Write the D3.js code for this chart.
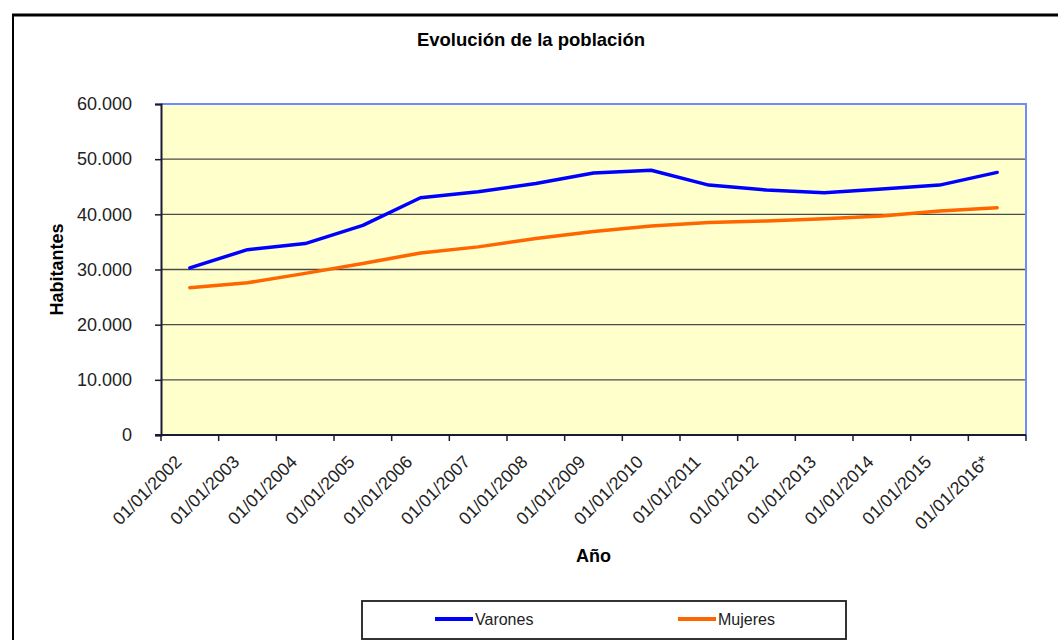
<!DOCTYPE html>
<html>
<head>
<meta charset="utf-8">
<script src="https://cdn.jsdelivr.net/npm/d3@7"></script>
<style>
	body { margin: 0; background: #fff; }
	svg { display: block; font-family: "Liberation Sans", Arial, sans-serif; }
</style>
</head>
<body>
<svg id="wrapper" width="1058" height="640"></svg>
<script>
let years = ["01/01/2002", "01/01/2003", "01/01/2004", "01/01/2005", "01/01/2006",
	"01/01/2007", "01/01/2008", "01/01/2009", "01/01/2010", "01/01/2011",
	"01/01/2012", "01/01/2013", "01/01/2014", "01/01/2015", "01/01/2016*"];
let varones = [30300, 33600, 34700, 38000, 43000, 44100, 45600, 47500, 48000,
	45300, 44400, 43900, 44600, 45300, 47600];
let mujeres = [26700, 27600, 29300, 31100, 33000, 34100, 35600, 36900, 37900,
	38500, 38800, 39200, 39700, 40600, 41200];
let yTicks = [0, 10000, 20000, 30000, 40000, 50000, 60000];

let series = [
	{ name: "Varones", values: varones, color: "#0000ff" },
	{ name: "Mujeres", values: mujeres, color: "#ff6600" },
];

let svg = d3.select("#wrapper");

// page frame around the chart
svg.append("line").attr("x1", 12).attr("x2", 1058).attr("y1", 15).attr("y2", 15)
	.attr("stroke", "#000").attr("stroke-width", 3);
svg.append("line").attr("x1", 13).attr("x2", 13).attr("y1", 14).attr("y2", 640)
	.attr("stroke", "#000").attr("stroke-width", 2);

let plotLeft = 161, plotRight = 1026, plotTop = 104, plotBottom = 435;

let x = d3.scaleBand().domain(years).range([plotLeft, plotRight]).padding(0);
let y = d3.scaleLinear().domain([0, 60000]).range([plotBottom, plotTop]);

let es = d3.formatLocale({ decimal: ",", thousands: ".", grouping: [3], currency: ["", " €"] });
let fmt = es.format(",");

// plot background
svg.append("rect")
	.attr("x", plotLeft).attr("y", plotTop)
	.attr("width", plotRight - plotLeft).attr("height", plotBottom - plotTop)
	.attr("fill", "#ffffcc");

// gridlines
svg.append("g")
	.selectAll("line")
	.data(yTicks.filter((d) => d > 0 && d < 60000))
	.enter()
	.append("line")
	.attr("x1", plotLeft).attr("x2", plotRight)
	.attr("y1", (d) => y(d)).attr("y2", (d) => y(d))
	.attr("stroke", "#4a4a4a").attr("stroke-width", 1.4);

// top and right border of the plot area
svg.append("path")
	.attr("d", `M${plotLeft},${plotTop}H${plotRight}V${plotBottom}`)
	.attr("fill", "none").attr("stroke", "#6f8cff").attr("stroke-width", 2);

// y axis
let yAxis = svg.append("g")
	.attr("transform", `translate(${plotLeft},0)`)
	.call(d3.axisLeft(y).tickValues(yTicks).tickFormat(fmt).tickSize(6).tickPadding(23));
yAxis.select(".domain").attr("stroke", "#1a1a33").attr("stroke-width", 2);
yAxis.selectAll(".tick line").attr("stroke", "#1a1a33").attr("stroke-width", 1.5);
yAxis.selectAll("text")
	.attr("font-size", "18px").attr("fill", "#222")
	.attr("font-family", "Liberation Sans, Arial, sans-serif");

// x axis with ticks on category boundaries
let xAxis = svg.append("g").attr("transform", `translate(0,${plotBottom})`);
xAxis.append("line").attr("x1", plotLeft - 6).attr("x2", plotRight)
	.attr("stroke", "#1a1a33").attr("stroke-width", 2);
xAxis.selectAll(".tk")
	.data(years.concat(["end"]))
	.enter()
	.append("line")
	.attr("class", "tk")
	.attr("x1", (d, i) => plotLeft + i * x.bandwidth())
	.attr("x2", (d, i) => plotLeft + i * x.bandwidth())
	.attr("y1", 0).attr("y2", 6)
	.attr("stroke", "#1a1a33").attr("stroke-width", 1.5);
xAxis.selectAll(".lbl")
	.data(years)
	.enter()
	.append("text")
	.attr("class", "lbl")
	.attr("transform", (d) => `translate(${x(d) + x.bandwidth() / 2 - 7},28) rotate(-45)`)
	.attr("text-anchor", "end")
	.attr("font-size", "17.8px")
	.attr("fill", "#222")
	.text((d) => d);

// lines
let line = d3.line()
	.x((d, i) => x(years[i]) + x.bandwidth() / 2)
	.y((d) => y(d));

svg.append("g")
	.selectAll("path")
	.data(series)
	.enter()
	.append("path")
	.attr("d", (s) => line(s.values))
	.attr("fill", "none")
	.attr("stroke", (s) => s.color)
	.attr("stroke-width", 3.5)
	.attr("stroke-linejoin", "round")
	.attr("stroke-linecap", "round");

// titles
svg.append("text")
	.attr("x", 531).attr("y", 46)
	.attr("text-anchor", "middle")
	.attr("font-size", "18.5px").attr("font-weight", "bold")
	.text("Evolución de la población");

svg.append("text")
	.attr("x", (plotLeft + plotRight) / 2).attr("y", 562)
	.attr("text-anchor", "middle")
	.attr("font-size", "18px").attr("font-weight", "bold")
	.text("Año");

svg.append("text")
	.attr("transform", `translate(63,${(plotTop + plotBottom) / 2}) rotate(-90)`)
	.attr("text-anchor", "middle")
	.attr("font-size", "18px").attr("font-weight", "bold")
	.text("Habitantes");

// legend
let legend = svg.append("g");
legend.append("rect")
	.attr("x", 362).attr("y", 601)
	.attr("width", 484).attr("height", 38)
	.attr("fill", "#fff").attr("stroke", "#333").attr("stroke-width", 2);
let items = legend.selectAll(".item")
	.data(series)
	.enter()
	.append("g")
	.attr("class", "item")
	.attr("transform", (d, i) => `translate(${435 + i * 243},619)`);
items.append("line")
	.attr("x1", 0).attr("x2", 38)
	.attr("stroke", (d) => d.color).attr("stroke-width", 4);
items.append("text")
	.attr("x", 40).attr("y", 6)
	.attr("font-size", "16px").attr("fill", "#222")
	.text((d) => d.name);
</script>
</body>
</html>
